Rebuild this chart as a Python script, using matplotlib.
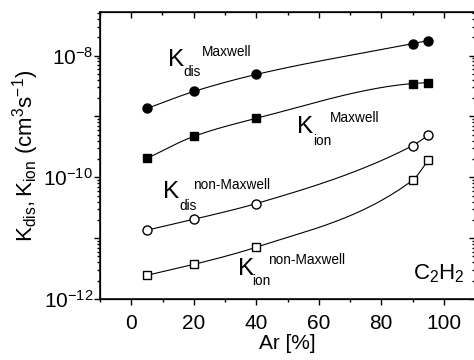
import numpy as np
import matplotlib
matplotlib.use('Agg')
import matplotlib.pyplot as plt
from matplotlib.ticker import LogLocator, FuncFormatter, MultipleLocator, NullFormatter

# data
ar = [5, 20, 40, 90, 95]
kdis_max = [1.35e-9, 2.57e-9, 4.9e-9, 1.57e-8, 1.76e-8]
kion_max = [2.04e-10, 4.7e-10, 9.3e-10, 3.47e-9, 3.6e-9]
kdis_non = [1.35e-11, 2.04e-11, 3.7e-11, 3.3e-10, 4.9e-10]
kion_non = [2.45e-12, 3.7e-12, 7.1e-12, 8.9e-11, 1.9e-10]

x_ticks = [0, 20, 40, 60, 80, 100]


def pchip(x, y, xs):
    # monotone cubic through the points, only used to draw smooth lines
    x = np.asarray(x, float)
    y = np.asarray(y, float)
    h = np.diff(x)
    d = np.diff(y) / h
    n = len(x)
    m = np.zeros(n)
    m[0], m[-1] = d[0], d[-1]
    for k in range(1, n - 1):
        if d[k - 1] * d[k] <= 0:
            m[k] = 0
        else:
            w1 = 2 * h[k] + h[k - 1]
            w2 = h[k] + 2 * h[k - 1]
            m[k] = (w1 + w2) / (w1 / d[k - 1] + w2 / d[k])
    i = np.clip(np.searchsorted(x, xs) - 1, 0, n - 2)
    t = (xs - x[i]) / h[i]
    h00 = 2 * t**3 - 3 * t**2 + 1
    h10 = t**3 - 2 * t**2 + t
    h01 = -2 * t**3 + 3 * t**2
    h11 = t**3 - t**2
    return h00 * y[i] + h10 * h[i] * m[i] + h01 * y[i + 1] + h11 * h[i] * m[i + 1]


plt.rcParams['font.family'] = ['Liberation Sans', 'DejaVu Sans']
plt.rcParams['mathtext.fontset'] = 'custom'
plt.rcParams['mathtext.rm'] = 'Liberation Sans'
plt.rcParams['mathtext.it'] = 'Liberation Sans'

fig = plt.figure(figsize=(4.74, 3.6), dpi=100)
ax = fig.add_axes([100 / 474, 61 / 360, 375 / 474, 287 / 360])

xs = np.linspace(5, 95, 200)
series = [
    (kdis_max, 'o', 'black', 6.5),
    (kion_max, 's', 'black', 5.5),
    (kdis_non, 'o', 'white', 6.5),
    (kion_non, 's', 'white', 5.5),
]
for vals, mk, fc, ms in series:
    ys = 10 ** pchip(ar, np.log10(vals), xs)
    ax.plot(xs, ys, color='black', lw=0.8, zorder=2)
    ax.plot(ar, vals, linestyle='none', marker=mk, ms=ms, mfc=fc, mec='black',
            mew=1.0, zorder=3)

ax.set_yscale('log')
ax.set_xlim(-10, 110)
ax.set_ylim(1e-12, 5.2e-8)

ax.set_xticks(x_ticks)
ax.xaxis.set_minor_locator(MultipleLocator(10))
ax.yaxis.set_major_locator(LogLocator(base=10, numticks=20))
ax.yaxis.set_minor_locator(LogLocator(base=10, subs=np.arange(2, 10), numticks=20))
ax.yaxis.set_minor_formatter(NullFormatter())


def exp_fmt(v, pos):
    e = int(round(np.log10(v)))
    if e % 2 == 0:
        return r'$\mathregular{10^{%d}}$' % e
    return ''


ax.yaxis.set_major_formatter(FuncFormatter(exp_fmt))
ax.tick_params(which='both', direction='out', labelsize=15, width=1.0, top=False, right=False)
ax.tick_params(which='major', length=4)
ax.tick_params(which='minor', length=2)
ax.tick_params(axis='x', pad=6.5)
ax.tick_params(axis='y', pad=1)
for sp in ax.spines.values():
    sp.set_linewidth(1.1)

# inward ticks on top and right
axr = ax.twinx()
axr.set_yscale('log')
axr.set_ylim(ax.get_ylim())
axr.yaxis.set_major_locator(LogLocator(base=10, numticks=20))
axr.yaxis.set_minor_locator(LogLocator(base=10, subs=np.arange(2, 10), numticks=20))
axr.tick_params(which='both', direction='in', labelright=False, width=1.0)
axr.tick_params(which='major', length=4)
axr.tick_params(which='minor', length=2)
axt = ax.twiny()
axt.set_xlim(ax.get_xlim())
axt.set_xticks(x_ticks)
axt.xaxis.set_minor_locator(MultipleLocator(10))
axt.tick_params(which='both', direction='in', labeltop=False, width=1.0)
axt.tick_params(which='major', length=4)
axt.tick_params(which='minor', length=2)

ax.set_xlabel('Ar [%]', fontsize=15, labelpad=1)
ax.set_ylabel(r'$\mathregular{K_{dis}, K_{ion}\ (cm^3s^{-1})}$', fontsize=16, labelpad=2)

# curve labels
big, small = 17.5, 9.8
ax.text(11.8, 8.6e-9, 'K', fontsize=big, va='center')
ax.text(16.6, 5.3e-9, 'dis', fontsize=small, va='center')
ax.text(22.7, 1.16e-8, 'Maxwell', fontsize=small, va='center')

ax.text(53.1, 6.7e-10, 'K', fontsize=big, va='center')
ax.text(58.2, 4.0e-10, 'ion', fontsize=small, va='center')
ax.text(63.7, 9.4e-10, 'Maxwell', fontsize=small, va='center')

ax.text(10.2, 5.7e-11, 'K', fontsize=big, va='center')
ax.text(15.4, 3.4e-11, 'dis', fontsize=small, va='center')
ax.text(19.8, 7.6e-11, 'non-Maxwell', fontsize=small, va='center')

ax.text(34.2, 3.1e-12, 'K', fontsize=big, va='center')
ax.text(38.7, 1.95e-12, 'ion', fontsize=small, va='center')
ax.text(43.8, 4.3e-12, 'non-Maxwell', fontsize=small, va='center')

ax.text(90.3, 2.6e-12, r'$\mathregular{C_2H_2}$', fontsize=16, va='center')

fig.savefig('out.png', dpi=100)
